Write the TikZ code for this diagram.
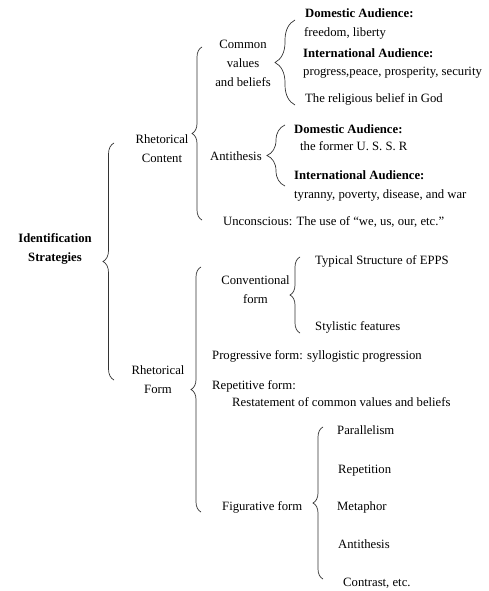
\documentclass[tikz,border=0pt]{standalone}
\usepackage{fontspec}
\setmainfont{Liberation Serif}
\usetikzlibrary{decorations.pathreplacing}
\tikzset{
  br/.style={decorate,decoration={brace,amplitude=#1},line width=0.7pt,draw=black!80},
  lt/.style={anchor=west,inner sep=0pt,text height=0.7em,text depth=0.2em,font=\fontsize{12.7}{19}\selectfont},
  ct/.style={align=center,inner sep=0pt,font=\fontsize{12.7}{19}\selectfont},
}
\begin{document}
\begin{tikzpicture}[x=1pt,y=-1pt]
\useasboundingbox (0,0) rectangle (489,591);
% braces (drawn bottom to top so that the tip points left)
\draw[br=11] (114,380) -- (114,143);
\draw[br=10] (202,220) -- (202,47);
\draw[br=10] (201,512) -- (201,267);
\draw[br=20] (295,105) -- (295,20);
\draw[br=18] (285,186) -- (285,125);
\draw[br=10] (300,333) -- (300,257);
\draw[br=10] (323,579) -- (323,427);
% labels
\node[ct,font=\fontsize{12.7}{19}\selectfont\bfseries] (ids) at (55,248.5) {Identification\\Strategies};
\node[ct] (rc) at (162,148.5) {Rhetorical\\Content};
\node[ct] (rf) at (158,379.5) {Rhetorical\\Form};
\node[ct] (cv) at (243,63) {Common\\values\\and beliefs};
\node[lt] (an) at (210,158) {Antithesis};
\node[lt] (da1) at (305,15) {\bfseries Domestic Audience:};
\node[lt] (fl) at (304,34) {freedom, liberty};
\node[lt] (ia1) at (303,55) {\bfseries International Audience:};
\node[lt] (pp) at (303,73) {progress,peace, prosperity, security};
\node[lt] (rb) at (305,100) {The religious belief in God};
\node[lt] (da2) at (294,131) {\bfseries Domestic Audience:};
\node[lt] (us) at (300,148) {the former U. S. S. R};
\node[lt] (ia2) at (294,177) {\bfseries International Audience:};
\node[lt] (ty) at (294,196) {tyranny, poverty, disease, and war};
\node[lt] (un) at (223,223) {Unconscious: The use of “we, us, our, etc.”};
\node[ct] (cf) at (255.5,289.5) {Conventional\\form};
\node[lt] (ts) at (315,262) {Typical Structure of EPPS};
\node[lt] (sf) at (315,328) {Stylistic features};
\node[lt] (pf) at (212,357) {Progressive form: syllogistic progression};
\node[lt] (rp) at (212,387) {Repetitive form:};
\node[lt] (rs) at (232,404) {Restatement of common values and beliefs};
\node[lt] (ff) at (222,508) {Figurative form};
\node[lt] (pa) at (337,432) {Parallelism};
\node[lt] (re) at (338,471) {Repetition};
\node[lt] (me) at (337,508) {Metaphor};
\node[lt] (at) at (338,546) {Antithesis};
\node[lt] (co) at (343,584) {Contrast, etc.};
\end{tikzpicture}
\end{document}
